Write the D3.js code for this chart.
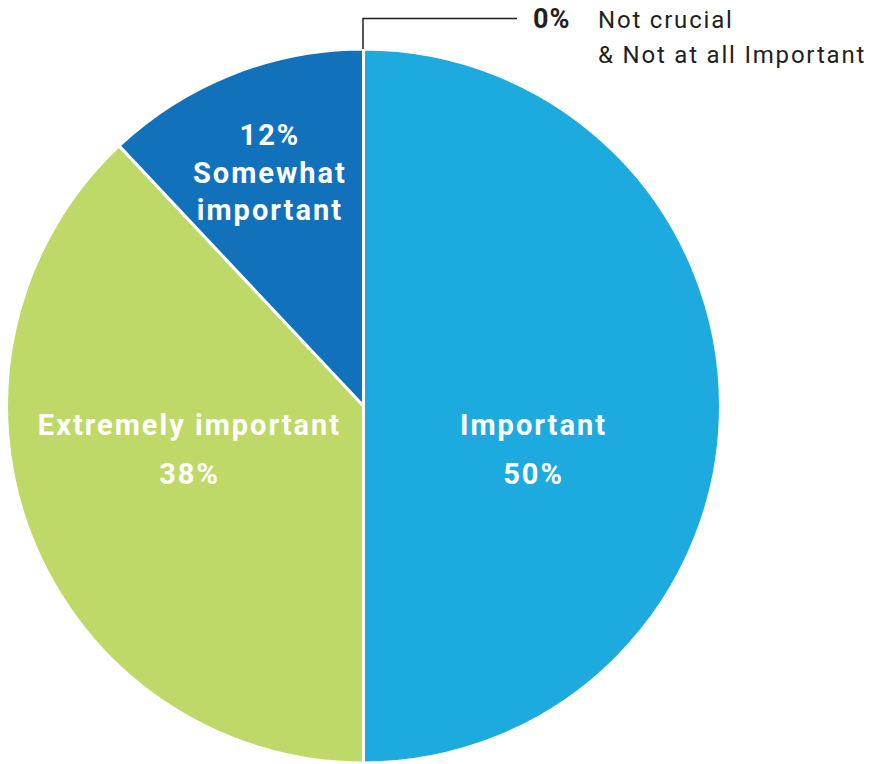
<!DOCTYPE html>
<html>
<head>
<meta charset="utf-8">
<script src="https://cdn.jsdelivr.net/npm/d3@7"></script>
<style>
  body { margin: 0; background: #fff; }
  svg { display: block; font-family: Roboto, "Open Sans", sans-serif; }
</style>
</head>
<body>
<script>
// data, clockwise from 12 o'clock
const categories = ['Not crucial & Not at all Important', 'Important', 'Extremely important', 'Somewhat important'];
const values = [0, 50, 38, 12];
const colors = ['#cccccc', '#1dabdf', '#bed967', '#1172bb'];

const width = 875, height = 764;
const cx = 363.5, cy = 406, radius = 357;
const ls = 2; // letter spacing of the slice labels

const svg = d3.select('body').append('svg')
    .attr('width', width)
    .attr('height', height);

const data = categories.map((c, i) => ({ name: c, value: values[i], color: colors[i] }));

const pie = d3.pie()
    .sort(null)
    .value(d => d.value);

const arc = d3.arc()
    .innerRadius(0)
    .outerRadius(radius);

const arcs = pie(data);

const g = svg.append('g')
    .attr('transform', 'translate(' + cx + ' ' + cy + ')');

g.selectAll('path')
    .data(arcs.filter(d => d.data.value > 0))
    .join('path')
    .attr('d', arc)
    .attr('fill', d => d.data.color)
    .attr('stroke', '#fff')
    .attr('stroke-width', 3)
    .attr('stroke-linejoin', 'miter');

function pct(v) { return v + '%'; }

function sliceText() {
    return g.append('text')
        .attr('text-anchor', 'middle')
        .attr('fill', '#fff')
        .attr('font-weight', 700)
        .attr('font-size', 29)
        .attr('letter-spacing', ls);
}

// big slices: name over value
arcs.filter(d => d.data.value >= 30).forEach(d => {
    const mid = (d.startAngle + d.endAngle) / 2;
    const x = (Math.sin(mid) >= 0 ? 169 : -175) + ls / 2;
    const t = sliceText();
    t.append('tspan').attr('x', x).attr('y', 29).text(d.data.name);
    t.append('tspan').attr('x', x).attr('y', 78).text(pct(d.data.value));
});

// small slices: value over two-line name
arcs.filter(d => d.data.value > 0 && d.data.value < 30).forEach(d => {
    const mid = (d.startAngle + d.endAngle) / 2;
    const r = 257;
    const x = Math.sin(mid) * r + ls / 2;
    const y = -Math.cos(mid) * r;
    const words = d.data.name.split(' ');
    const t = sliceText();
    t.append('tspan').attr('x', x).attr('y', y - 22).text(pct(d.data.value));
    t.append('tspan').attr('x', x).attr('y', y + 16).text(words[0]);
    t.append('tspan').attr('x', x).attr('y', y + 53).text(words.slice(1).join(' '));
});

// zero slice callout
arcs.filter(d => d.data.value === 0).forEach(d => {
    const a = d.startAngle;
    const x0 = Math.sin(a) * radius, y0 = -Math.cos(a) * radius;
    const yTop = -cy + 18.5;
    g.append('path')
        .attr('d', 'M' + (x0 - 0.5) + ',' + y0 + 'V' + yTop + 'H' + (517 - cx))
        .attr('fill', 'none')
        .attr('stroke', '#231f20')
        .attr('stroke-width', 1.5);
    const parts = d.data.name.split(' & ');
    svg.append('text')
        .attr('fill', '#231f20')
        .attr('x', 533).attr('y', 28)
        .attr('font-weight', 700).attr('font-size', 27)
        .attr('letter-spacing', 1)
        .text(pct(d.data.value));
    svg.append('text')
        .attr('fill', '#231f20')
        .attr('font-size', 24)
        .attr('letter-spacing', 1.8)
        .attr('x', 598).attr('y', 28)
        .text(parts[0]);
    svg.append('text')
        .attr('fill', '#231f20')
        .attr('font-size', 24)
        .attr('letter-spacing', 1.8)
        .attr('x', 598).attr('y', 63)
        .text('& ' + parts[1]);
});
</script>
</body>
</html>
